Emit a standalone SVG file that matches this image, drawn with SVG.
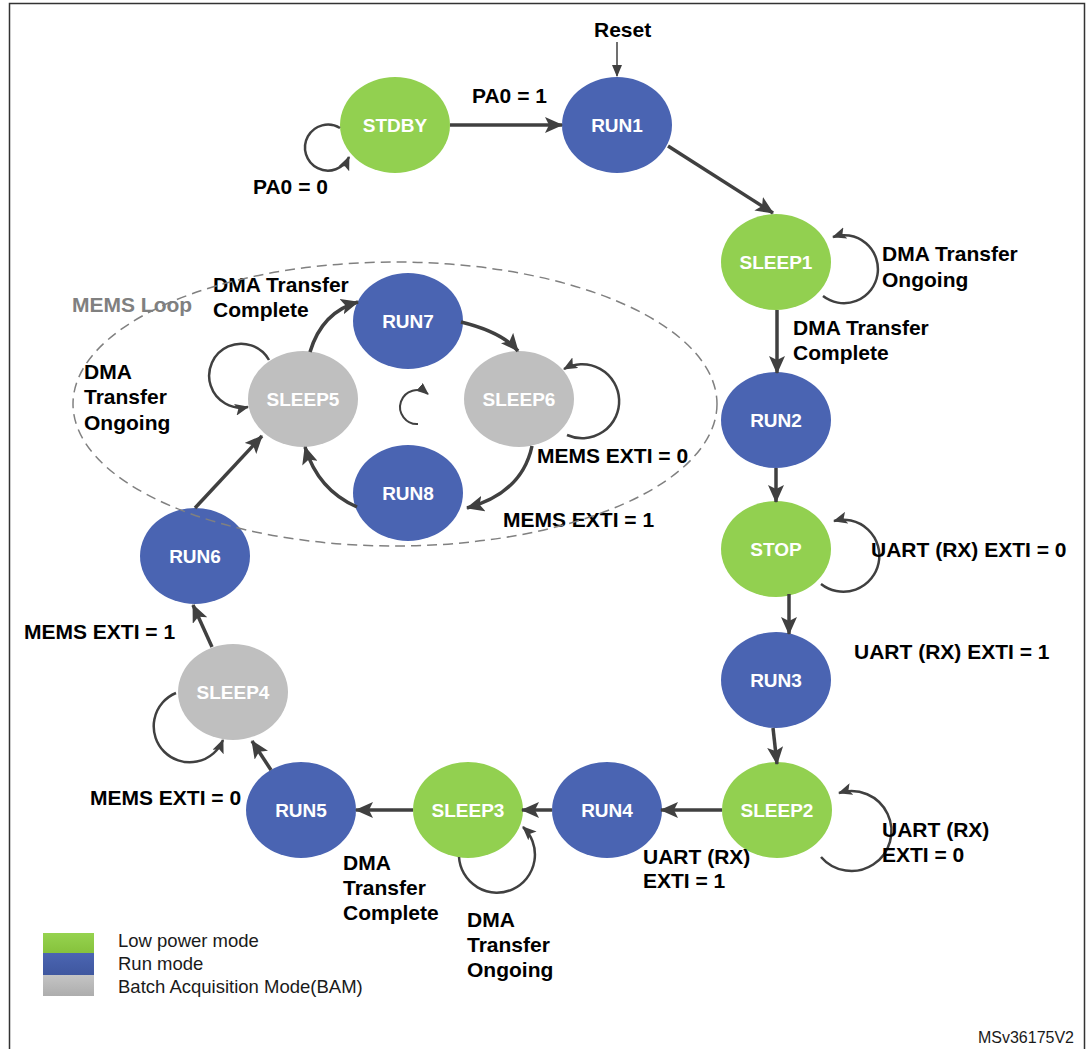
<svg xmlns="http://www.w3.org/2000/svg" width="1090" height="1049" viewBox="0 0 1090 1049">
<defs>
<marker id="ah" markerUnits="userSpaceOnUse" markerWidth="18" markerHeight="16" refX="17" refY="8" orient="auto">
<path d="M0,0 L18,8 L0,16 L4,8 z" fill="#404040"/>
</marker>
<marker id="ahs" markerUnits="userSpaceOnUse" markerWidth="14" markerHeight="12" refX="13" refY="6" orient="auto">
<path d="M0,0 L14,6 L0,12 L3,6 z" fill="#404040"/>
</marker>
<marker id="aht" markerUnits="userSpaceOnUse" markerWidth="12" markerHeight="10" refX="11" refY="5" orient="auto">
<path d="M0,0 L12,5 L0,10 z" fill="#404040"/>
</marker>
<linearGradient id="lg" x1="0" y1="0" x2="0" y2="1"><stop offset="0" stop-color="#96d34f"/><stop offset="1" stop-color="#86c23c"/></linearGradient>
<linearGradient id="lb" x1="0" y1="0" x2="0" y2="1"><stop offset="0" stop-color="#4b65b2"/><stop offset="1" stop-color="#3f579f"/></linearGradient>
<linearGradient id="lgr" x1="0" y1="0" x2="0" y2="1"><stop offset="0" stop-color="#c4c4c4"/><stop offset="1" stop-color="#adadad"/></linearGradient>
</defs>
<style>
.g{fill:#92d050}
.b{fill:#4a64b2}
.y{fill:#bfbfbf}
.nt{font-family:"Liberation Sans",Arial,sans-serif;font-weight:bold;font-size:19px;fill:#ffffff;text-anchor:middle}
.lb{font-family:"Liberation Sans",Arial,sans-serif;font-weight:bold;font-size:21px;fill:#000000}
.lg{font-family:"Liberation Sans",Arial,sans-serif;font-size:18.5px;fill:#1a1a1a}
.c{fill:none;stroke:#404040;stroke-width:3.5;marker-end:url(#ah)}
.s{fill:none;stroke:#404040;stroke-width:2.5;marker-end:url(#ahs)}
</style>
<rect x="0" y="0" width="1090" height="1049" fill="#ffffff"/>
<path d="M9.5,1060 L9.5,3.5 L1084.5,3.5 L1084.5,1060" fill="none" stroke="#333333" stroke-width="1.5"/>

<g id="nodes">
<g id="STDBY"><ellipse cx="395" cy="125" rx="55" ry="48" class="g"/><text x="395" y="132" class="nt">STDBY</text></g>
<g id="RUN1"><ellipse cx="617" cy="125" rx="55" ry="48" class="b"/><text x="617" y="132" class="nt">RUN1</text></g>
<g id="SLEEP1"><ellipse cx="776" cy="262" rx="55" ry="48" class="g"/><text x="776" y="269" class="nt">SLEEP1</text></g>
<g id="RUN2"><ellipse cx="776" cy="420" rx="55" ry="48" class="b"/><text x="776" y="427" class="nt">RUN2</text></g>
<g id="STOP"><ellipse cx="776" cy="549" rx="55" ry="48" class="g"/><text x="776" y="556" class="nt">STOP</text></g>
<g id="RUN3"><ellipse cx="776" cy="680" rx="55" ry="48" class="b"/><text x="776" y="687" class="nt">RUN3</text></g>
<g id="SLEEP2"><ellipse cx="777" cy="810" rx="55" ry="48" class="g"/><text x="777" y="817" class="nt">SLEEP2</text></g>
<g id="RUN4"><ellipse cx="607" cy="810" rx="55" ry="48" class="b"/><text x="607" y="817" class="nt">RUN4</text></g>
<g id="SLEEP3"><ellipse cx="468" cy="810" rx="55" ry="48" class="g"/><text x="468" y="817" class="nt">SLEEP3</text></g>
<g id="RUN5"><ellipse cx="301" cy="810" rx="55" ry="48" class="b"/><text x="301" y="817" class="nt">RUN5</text></g>
<g id="SLEEP4"><ellipse cx="233" cy="692" rx="55" ry="48" class="y"/><text x="233" y="699" class="nt">SLEEP4</text></g>
<g id="RUN6"><ellipse cx="195" cy="556" rx="55" ry="48" class="b"/><text x="195" y="563" class="nt">RUN6</text></g>
<g id="SLEEP5"><ellipse cx="303" cy="399" rx="55" ry="48" class="y"/><text x="303" y="406" class="nt">SLEEP5</text></g>
<g id="RUN7"><ellipse cx="408" cy="321" rx="55" ry="48" class="b"/><text x="408" y="328" class="nt">RUN7</text></g>
<g id="SLEEP6"><ellipse cx="519" cy="399" rx="55" ry="48" class="y"/><text x="519" y="406" class="nt">SLEEP6</text></g>
<g id="RUN8"><ellipse cx="408" cy="493" rx="55" ry="48" class="b"/><text x="408" y="500" class="nt">RUN8</text></g>
</g>

<g id="connectors">
<line x1="617" y1="42" x2="617" y2="76" stroke="#404040" stroke-width="1.5" marker-end="url(#aht)"/>
<line x1="450" y1="125" x2="562" y2="125" class="c"/>
<path d="M340,128 A23,23 0 1,0 349,157" class="s"/>
<line x1="668" y1="146" x2="773" y2="213" class="c"/>
<path d="M823,296 A34,34 0 1,0 833,237" class="s"/>
<line x1="777" y1="310" x2="777" y2="373" class="c"/>
<line x1="776" y1="468" x2="776" y2="502" class="c"/>
<path d="M821,584 A36,36 0 1,0 834,521" class="s"/>
<line x1="789" y1="594" x2="789" y2="634" class="c"/>
<line x1="773" y1="728" x2="777" y2="764" class="c"/>
<path d="M821,857 A40,40 0 1,0 839,793" class="s"/>
<line x1="722" y1="810" x2="661" y2="810" class="c"/>
<line x1="552" y1="810" x2="522" y2="810" class="c"/>
<path d="M459,857 A38,38 0 1,0 523,827" class="s"/>
<line x1="413" y1="810" x2="356" y2="810" class="c"/>
<line x1="271" y1="770" x2="252" y2="741" class="c"/>
<path d="M176,693 A36,36 0 1,0 223,740" class="s"/>
<line x1="212" y1="647" x2="193" y2="605" class="c"/>
<line x1="195" y1="508" x2="262" y2="436" class="c"/>
<path d="M269,360 A32,32 0 1,0 248,407" class="s"/>
<path d="M310,352 Q322,312 358,302" class="c"/>
<path d="M461,322 Q502,332 518,351" class="c"/>
<path d="M567,435 A37,37 0 1,0 564,369" class="s"/>
<path d="M532,446 Q522,493 467,508" class="c"/>
<path d="M357,507 Q318,490 305,447" class="c"/>
<path d="M418,424 A17,17 0 1,1 428,394" fill="none" stroke="#404040" stroke-width="2" marker-end="url(#aht)"/>
</g>

<g id="labels">
<text x="594" y="37" class="lb">Reset</text>
<text x="472" y="103" class="lb">PA0 = 1</text>
<text x="253" y="194" class="lb">PA0 = 0</text>
<text x="882" y="261" class="lb">DMA Transfer</text>
<text x="882" y="287" class="lb">Ongoing</text>
<text x="793" y="335" class="lb">DMA Transfer</text>
<text x="793" y="360" class="lb">Complete</text>
<text x="871" y="557" class="lb">UART (RX) EXTI = 0</text>
<text x="854" y="659" class="lb">UART (RX) EXTI = 1</text>
<text x="882" y="837" class="lb">UART (RX)</text>
<text x="882" y="862" class="lb">EXTI = 0</text>
<text x="643" y="864" class="lb">UART (RX)</text>
<text x="643" y="888" class="lb">EXTI = 1</text>
<text x="343" y="870" class="lb">DMA</text>
<text x="343" y="895" class="lb">Transfer</text>
<text x="343" y="920" class="lb">Complete</text>
<text x="467" y="927" class="lb">DMA</text>
<text x="467" y="952" class="lb">Transfer</text>
<text x="467" y="977" class="lb">Ongoing</text>
<text x="90" y="805" class="lb">MEMS EXTI = 0</text>
<text x="24" y="639" class="lb">MEMS EXTI = 1</text>
<text x="84" y="379" class="lb">DMA</text>
<text x="84" y="404" class="lb">Transfer</text>
<text x="84" y="430" class="lb">Ongoing</text>
<text x="213" y="292" class="lb">DMA Transfer</text>
<text x="213" y="317" class="lb">Complete</text>
<text x="537" y="463" class="lb">MEMS EXTI = 0</text>
<text x="503" y="527" class="lb">MEMS EXTI = 1</text>
<text x="72" y="312" class="lb" style="fill:#808080">MEMS Loop</text>
</g>

<ellipse id="mems-loop" cx="395" cy="404" rx="322" ry="142" fill="none" stroke="#808080" stroke-width="1.5" stroke-dasharray="10 6"/>

<g id="legend">
<rect x="43" y="933" width="51" height="20" fill="url(#lg)"/>
<rect x="43" y="953" width="51" height="22" fill="url(#lb)"/>
<rect x="43" y="975" width="51" height="21" fill="url(#lgr)"/>
<text x="118" y="947" class="lg">Low power mode</text>
<text x="118" y="970" class="lg">Run mode</text>
<text x="118" y="993" class="lg">Batch Acquisition Mode(BAM)</text>
</g>
<text x="1074" y="1043" font-family="'Liberation Sans',Arial,sans-serif" font-size="16" fill="#1a1a1a" text-anchor="end">MSv36175V2</text>
</svg>
